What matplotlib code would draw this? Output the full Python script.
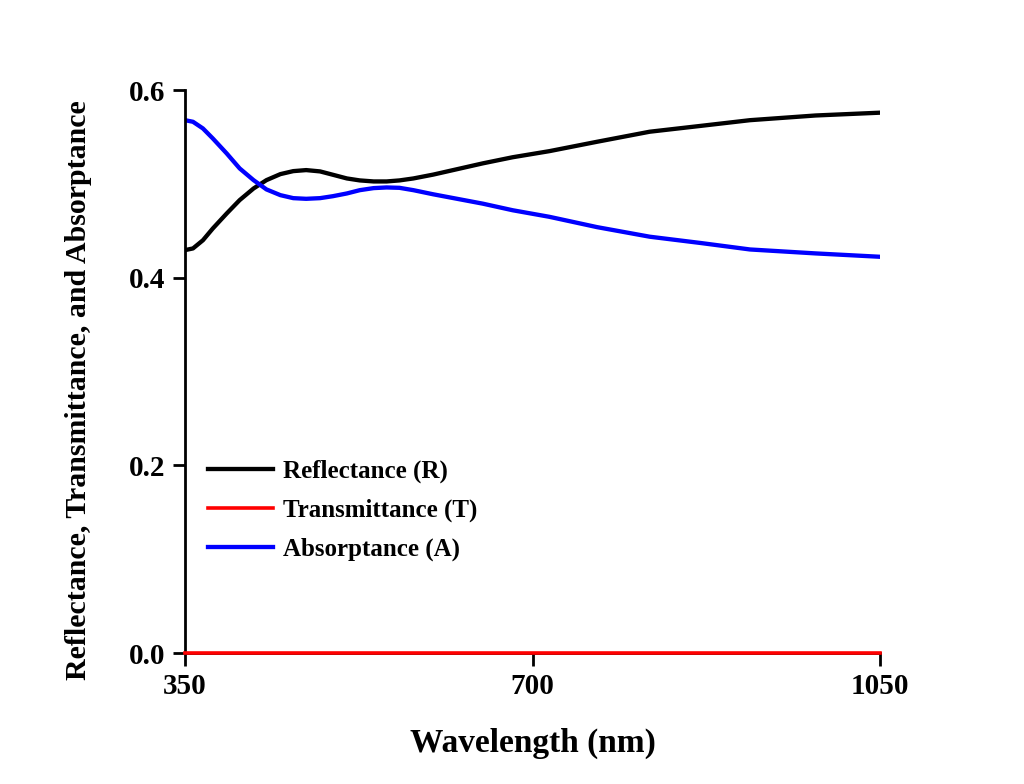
import matplotlib
matplotlib.use('Agg')
import matplotlib.pyplot as plt

plt.rcParams['font.family'] = ['Liberation Serif', 'DejaVu Serif']
plt.rcParams['font.weight'] = 'bold'

# values
wavelength = [350, 358, 368, 378, 392, 405, 419, 432, 446, 459, 472, 486, 499, 513, 526,
              540, 553, 566, 580, 600, 625, 650, 680, 717, 765, 818, 870, 919, 985, 1050]
reflectance = [0.4295, 0.4313, 0.440, 0.4526, 0.4686, 0.4828, 0.4952, 0.5041, 0.5105,
               0.5137, 0.5148, 0.5134, 0.5098, 0.5059, 0.5038, 0.5027, 0.5027, 0.5038,
               0.5059, 0.510, 0.516, 0.522, 0.5285, 0.535, 0.545, 0.5557, 0.562, 0.568,
               0.573, 0.576]
transmittance = [0.0] * len(wavelength)
absorptance = [0.568, 0.5663, 0.5592, 0.5485, 0.5325, 0.5166, 0.5041, 0.4942, 0.4881,
               0.4849, 0.4842, 0.4849, 0.4870, 0.4899, 0.4934, 0.4956, 0.4963, 0.4959,
               0.4934, 0.489, 0.484, 0.479, 0.472, 0.465, 0.454, 0.4438, 0.437, 0.4302,
               0.426, 0.4224]

fig = plt.figure(figsize=(10.24, 7.84), dpi=100)
ax = fig.add_axes([0.1807, 0.167, 0.6787, 0.718])

ax.plot(wavelength, reflectance, color='black', lw=3.1, label='Reflectance (R)')
ax.plot(wavelength, transmittance, color='red', lw=2.6, label='Transmittance (T)',
        clip_on=False, zorder=3)
ax.plot(wavelength, absorptance, color='blue', lw=3.1, label='Absorptance (A)')

ax.set_xlim(350, 1050)
ax.set_ylim(0, 0.6)
ax.set_xticks([350, 700, 1050])
ax.set_yticks([0.0, 0.2, 0.4, 0.6])
ax.set_yticklabels(['0.0', '0.2', '0.4', '0.6'])

for s in ['top', 'right']:
    ax.spines[s].set_visible(False)
for s in ['left', 'bottom']:
    ax.spines[s].set_linewidth(2)
ax.tick_params(direction='out', length=9, width=2, labelsize=21, pad=5)

ax.set_xlabel('Wavelength (nm)', fontsize=24, fontweight='bold', labelpad=20)
ax.set_ylabel('Reflectance, Transmittance, and Absorptance', fontsize=21.5,
              fontweight='bold', labelpad=27, y=0.467)

ax.legend(loc='upper left', bbox_to_anchor=(0.0, 0.384), frameon=False, fontsize=18,
          handlelength=2.6, handletextpad=0.4, labelspacing=0.63)

fig.savefig('out.png', dpi=100)
